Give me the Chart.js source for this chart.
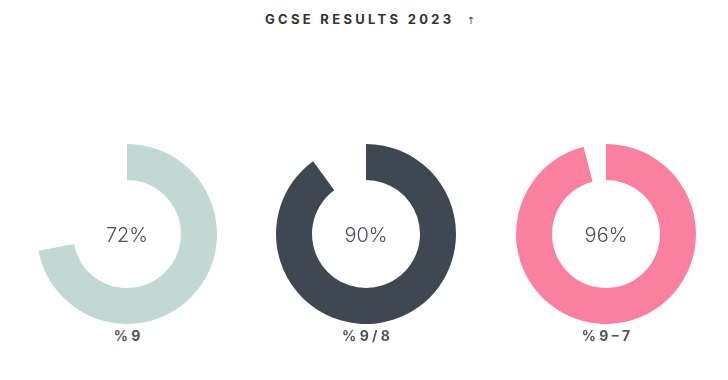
<!DOCTYPE html>
<html>
<head>
<meta charset="utf-8">
<script src="https://cdn.jsdelivr.net/npm/chart.js@4"></script>
<style>
  body { margin: 0; background: #fff; font-family: 'Inter', 'Noto Sans', sans-serif; }
  #wrap { position: relative; width: 728px; height: 380px; }
  #title { position: absolute; top: 11px; left: 265px; font-size: 13px; font-weight: 700; letter-spacing: 3.3px; color: #333; white-space: nowrap; }
  #title span { font-family: 'DejaVu Sans', sans-serif; font-weight: 400; font-size: 10px; margin-left: 12px; letter-spacing: 0; color: #444; }
  .cell { position: absolute; top: 144px; width: 240px; height: 180px; }
  .lbl { position: absolute; top: 327px; width: 240px; text-align: center; font-size: 14px; font-weight: 700; color: #50565e; }
</style>
</head>
<body>
<div id="wrap">
  <div id="title">GCSE RESULTS 2023<span>↑</span></div>
</div>
<script>
// data
const categories = ['% 9', '% 9 / 8', '% 9 – 7'];
const values = [72, 90, 96];
const colors = ['#c2d8d2', '#3e4852', '#f9809f'];
const lefts = [7, 246, 486];

// draws the % in the middle
const centerText = {
  id: 'centerText',
  afterDraw(chart) {
    const { ctx } = chart;
    const arc = chart.getDatasetMeta(0).data[0];
    ctx.save();
    ctx.font = '300 20px Inter, sans-serif';
    ctx.fillStyle = '#4a5058';
    ctx.textAlign = 'center';
    ctx.textBaseline = 'middle';
    ctx.fillText(chart.data.datasets[0].data[0] + '%', arc.x, arc.y + 2);
    ctx.restore();
  }
};

const wrap = document.getElementById('wrap');
categories.forEach((cat, i) => {
  let cell = document.createElement('div');
  cell.className = 'cell';
  cell.style.left = lefts[i] + 'px';
  let canvas = document.createElement('canvas');
  cell.appendChild(canvas);
  wrap.appendChild(cell);

  let lbl = document.createElement('div');
  lbl.className = 'lbl';
  lbl.style.left = lefts[i] + 'px';
  lbl.textContent = cat;
  wrap.appendChild(lbl);

  new Chart(canvas, {
    type: 'doughnut',
    data: {
      labels: [cat, ''],
      datasets: [{
        data: [values[i], 100 - values[i]],
        backgroundColor: [colors[i], 'rgba(0,0,0,0)'],
        borderWidth: 0
      }]
    },
    options: {
      responsive: true,
      maintainAspectRatio: false,
      animation: false,
      cutout: '60%',
      plugins: { legend: { display: false }, tooltip: { enabled: false } }
    },
    plugins: [centerText]
  });
});
</script>
</body>
</html>
